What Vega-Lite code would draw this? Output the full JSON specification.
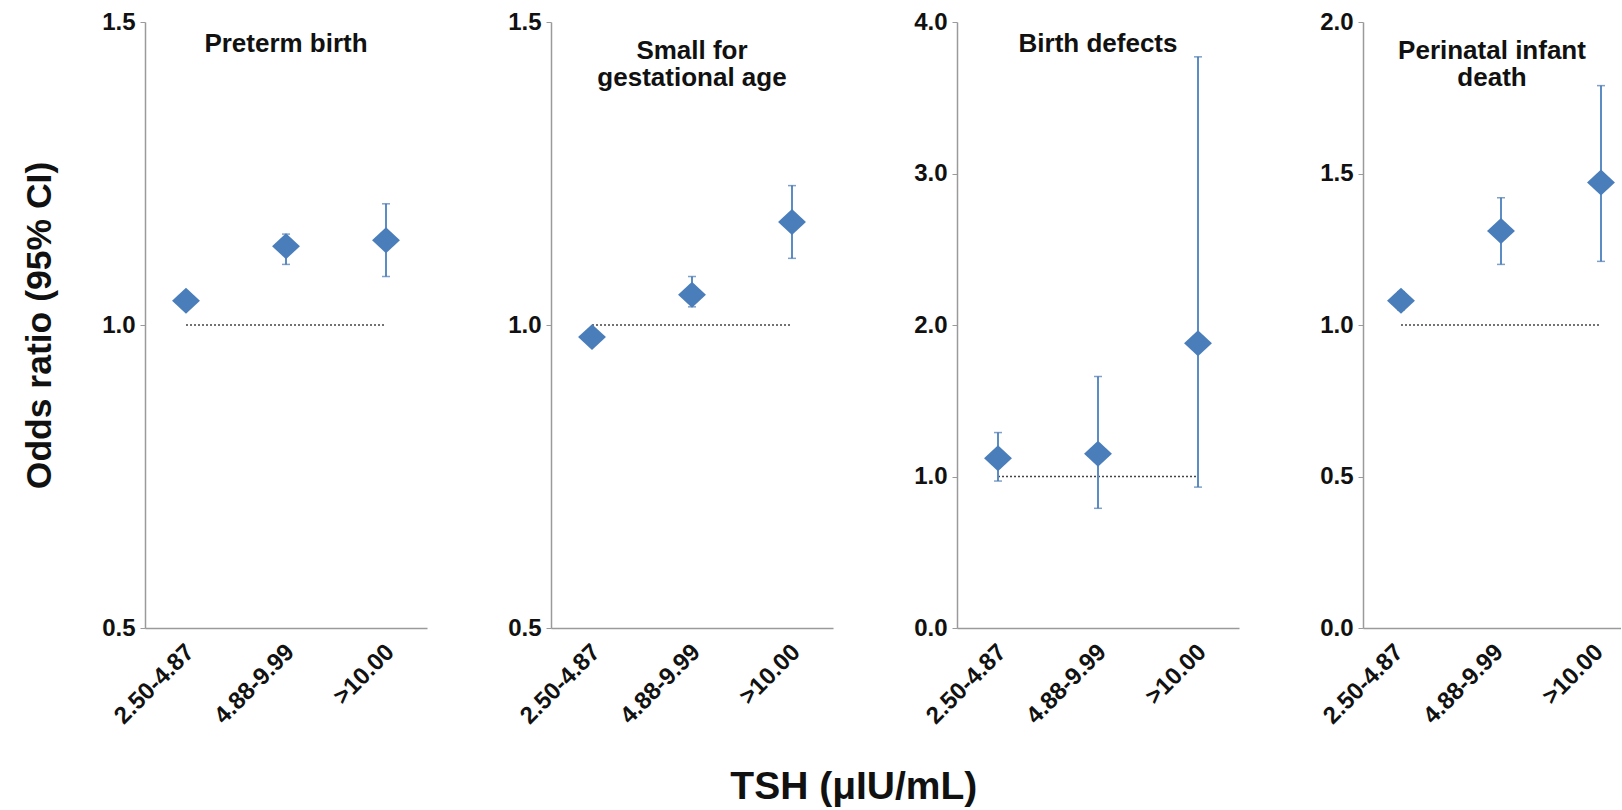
{
  "$schema": "https://vega.github.io/schema/vega-lite/v6.json",
  "background": "white",
  "padding": {"left": 22, "top": 10, "right": 0, "bottom": 3},
  "bounds": "flush",
  "spacing": 124,
  "title": {"text": "TSH (μIU/mL)", "orient": "bottom", "anchor": "middle", "font": "Liberation Sans", "fontSize": 39, "fontWeight": "bold", "color": "#111", "offset": 40, "dx": 32},
  "config": {
    "view": {"stroke": null},
    "font": "Liberation Sans",
    "axis": {"labelFont": "Liberation Sans", "labelFontWeight": "bold", "labelFontSize": 24, "labelColor": "#111", "domainColor": "#9a9a9a", "domainWidth": 1.5, "tickColor": "#9a9a9a", "tickWidth": 1, "grid": false, "titleFont": "Liberation Sans", "titleFontWeight": "bold", "titleColor": "#111"},
    "axisX": {"ticks": false, "labelAngle": -45, "labelAlign": "right", "labelBaseline": "middle", "labelPadding": 20, "labelOffset": 4},
    "axisY": {"tickSize": 5, "labelPadding": 5},
    "title": {"font": "Liberation Sans", "fontWeight": "bold", "color": "#111"}
  },
  "datasets": {
    "or": [
      {"outcome": "Preterm birth", "tsh": "2.50-4.87", "or": 1.04, "lo": 1.03, "hi": 1.05},
      {"outcome": "Preterm birth", "tsh": "4.88-9.99", "or": 1.13, "lo": 1.10, "hi": 1.15},
      {"outcome": "Preterm birth", "tsh": ">10.00", "or": 1.14, "lo": 1.08, "hi": 1.20},
      {"outcome": "Small for gestational age", "tsh": "2.50-4.87", "or": 0.98, "lo": 0.97, "hi": 0.99},
      {"outcome": "Small for gestational age", "tsh": "4.88-9.99", "or": 1.05, "lo": 1.03, "hi": 1.08},
      {"outcome": "Small for gestational age", "tsh": ">10.00", "or": 1.17, "lo": 1.11, "hi": 1.23},
      {"outcome": "Birth defects", "tsh": "2.50-4.87", "or": 1.12, "lo": 0.97, "hi": 1.29},
      {"outcome": "Birth defects", "tsh": "4.88-9.99", "or": 1.15, "lo": 0.79, "hi": 1.66},
      {"outcome": "Birth defects", "tsh": ">10.00", "or": 1.88, "lo": 0.93, "hi": 3.77},
      {"outcome": "Perinatal infant death", "tsh": "2.50-4.87", "or": 1.08, "lo": 1.05, "hi": 1.11},
      {"outcome": "Perinatal infant death", "tsh": "4.88-9.99", "or": 1.31, "lo": 1.20, "hi": 1.42},
      {"outcome": "Perinatal infant death", "tsh": ">10.00", "or": 1.47, "lo": 1.21, "hi": 1.79}
    ],
    "refs": [
      {"outcome": "Preterm birth", "x1": "2.50-4.87", "x2": ">10.00", "ref": 1},
      {"outcome": "Small for gestational age", "x1": "2.50-4.87", "x2": ">10.00", "ref": 1},
      {"outcome": "Birth defects", "x1": "2.50-4.87", "x2": ">10.00", "ref": 1},
      {"outcome": "Perinatal infant death", "x1": "2.50-4.87", "x2": ">10.00", "ref": 1}
    ]
  },
  "hconcat": [
    {
      "width": 282, "height": 606,
      "title": {"text": "Preterm birth", "fontSize": 26, "offset": -47, "frame": "group", "anchor": "middle"},
      "layer": [
        {"data": {"name": "refs"}, "transform": [{"filter": "datum.outcome == 'Preterm birth'"}],
         "mark": {"type": "rule", "strokeDash": [2, 2], "color": "#444", "strokeWidth": 1.5},
         "encoding": {"x": {"field": "x1", "type": "ordinal", "sort": ["2.50-4.87", "4.88-9.99", ">10.00"], "scale": {"type": "point", "padding": 0.41}, "axis": {"title": null}}, "x2": {"field": "x2"}, "y": {"field": "ref", "type": "quantitative", "scale": {"domain": [0.5, 1.5], "nice": false, "zero": false}, "axis": {"values": [0.5, 1, 1.5], "format": ".1f", "title": "Odds ratio (95% CI)", "titleFontSize": 35.5, "titlePadding": 44}}}},
        {"data": {"name": "or"}, "transform": [{"filter": "datum.outcome == 'Preterm birth'"}],
         "encoding": {"x": {"field": "tsh", "type": "ordinal", "sort": ["2.50-4.87", "4.88-9.99", ">10.00"]}},
         "layer": [
           {"mark": {"type": "rule", "color": "#5b8cc4", "strokeWidth": 2}, "encoding": {"y": {"field": "lo", "type": "quantitative"}, "y2": {"field": "hi"}}},
           {"mark": {"type": "tick", "orient": "horizontal", "size": 8, "thickness": 1.5, "color": "#4a78b0"}, "encoding": {"y": {"field": "lo", "type": "quantitative"}}},
           {"mark": {"type": "tick", "orient": "horizontal", "size": 8, "thickness": 1.5, "color": "#4a78b0"}, "encoding": {"y": {"field": "hi", "type": "quantitative"}}},
           {"mark": {"type": "point", "shape": "M-1,0L0,-0.93L1,0L0,0.93Z", "filled": true, "size": 780, "opacity": 1, "color": "#4a7ebb"}, "encoding": {"y": {"field": "or", "type": "quantitative"}}}
         ]}
      ]
    },
    {
      "width": 282, "height": 606,
      "title": {"text": ["Small for", "gestational age"], "fontSize": 26, "lineHeight": 27, "offset": -81, "frame": "group", "anchor": "middle"},
      "layer": [
        {"data": {"name": "refs"}, "transform": [{"filter": "datum.outcome == 'Small for gestational age'"}],
         "mark": {"type": "rule", "strokeDash": [2, 2], "color": "#444", "strokeWidth": 1.5},
         "encoding": {"x": {"field": "x1", "type": "ordinal", "sort": ["2.50-4.87", "4.88-9.99", ">10.00"], "scale": {"type": "point", "padding": 0.41}, "axis": {"title": null}}, "x2": {"field": "x2"}, "y": {"field": "ref", "type": "quantitative", "scale": {"domain": [0.5, 1.5], "nice": false, "zero": false}, "axis": {"values": [0.5, 1, 1.5], "format": ".1f", "title": null}}}},
        {"data": {"name": "or"}, "transform": [{"filter": "datum.outcome == 'Small for gestational age'"}],
         "encoding": {"x": {"field": "tsh", "type": "ordinal", "sort": ["2.50-4.87", "4.88-9.99", ">10.00"]}},
         "layer": [
           {"mark": {"type": "rule", "color": "#5b8cc4", "strokeWidth": 2}, "encoding": {"y": {"field": "lo", "type": "quantitative"}, "y2": {"field": "hi"}}},
           {"mark": {"type": "tick", "orient": "horizontal", "size": 8, "thickness": 1.5, "color": "#4a78b0"}, "encoding": {"y": {"field": "lo", "type": "quantitative"}}},
           {"mark": {"type": "tick", "orient": "horizontal", "size": 8, "thickness": 1.5, "color": "#4a78b0"}, "encoding": {"y": {"field": "hi", "type": "quantitative"}}},
           {"mark": {"type": "point", "shape": "M-1,0L0,-0.93L1,0L0,0.93Z", "filled": true, "size": 780, "opacity": 1, "color": "#4a7ebb"}, "encoding": {"y": {"field": "or", "type": "quantitative"}}}
         ]}
      ]
    },
    {
      "width": 282, "height": 606,
      "title": {"text": "Birth defects", "fontSize": 26, "offset": -47, "frame": "group", "anchor": "middle"},
      "layer": [
        {"data": {"name": "refs"}, "transform": [{"filter": "datum.outcome == 'Birth defects'"}],
         "mark": {"type": "rule", "strokeDash": [2, 2], "color": "#444", "strokeWidth": 1.5},
         "encoding": {"x": {"field": "x1", "type": "ordinal", "sort": ["2.50-4.87", "4.88-9.99", ">10.00"], "scale": {"type": "point", "padding": 0.41}, "axis": {"title": null}}, "x2": {"field": "x2"}, "y": {"field": "ref", "type": "quantitative", "scale": {"domain": [0, 4], "nice": false, "zero": false}, "axis": {"values": [0, 1, 2, 3, 4], "format": ".1f", "title": null}}}},
        {"data": {"name": "or"}, "transform": [{"filter": "datum.outcome == 'Birth defects'"}],
         "encoding": {"x": {"field": "tsh", "type": "ordinal", "sort": ["2.50-4.87", "4.88-9.99", ">10.00"]}},
         "layer": [
           {"mark": {"type": "rule", "color": "#5b8cc4", "strokeWidth": 2}, "encoding": {"y": {"field": "lo", "type": "quantitative"}, "y2": {"field": "hi"}}},
           {"mark": {"type": "tick", "orient": "horizontal", "size": 8, "thickness": 1.5, "color": "#4a78b0"}, "encoding": {"y": {"field": "lo", "type": "quantitative"}}},
           {"mark": {"type": "tick", "orient": "horizontal", "size": 8, "thickness": 1.5, "color": "#4a78b0"}, "encoding": {"y": {"field": "hi", "type": "quantitative"}}},
           {"mark": {"type": "point", "shape": "M-1,0L0,-0.93L1,0L0,0.93Z", "filled": true, "size": 780, "opacity": 1, "color": "#4a7ebb"}, "encoding": {"y": {"field": "or", "type": "quantitative"}}}
         ]}
      ]
    },
    {
      "width": 258, "height": 606,
      "title": {"text": ["Perinatal infant", "death"], "fontSize": 26, "lineHeight": 27, "offset": -81, "frame": "group", "anchor": "middle"},
      "layer": [
        {"data": {"name": "refs"}, "transform": [{"filter": "datum.outcome == 'Perinatal infant death'"}],
         "mark": {"type": "rule", "strokeDash": [2, 2], "color": "#444", "strokeWidth": 1.5},
         "encoding": {"x": {"field": "x1", "type": "ordinal", "sort": ["2.50-4.87", "4.88-9.99", ">10.00"], "scale": {"type": "point", "padding": 0.29, "align": 0.655}, "axis": {"title": null, "labelOffset": -2}}, "x2": {"field": "x2"}, "y": {"field": "ref", "type": "quantitative", "scale": {"domain": [0, 2], "nice": false, "zero": false}, "axis": {"values": [0, 0.5, 1, 1.5, 2], "format": ".1f", "title": null}}}},
        {"data": {"name": "or"}, "transform": [{"filter": "datum.outcome == 'Perinatal infant death'"}],
         "encoding": {"x": {"field": "tsh", "type": "ordinal", "sort": ["2.50-4.87", "4.88-9.99", ">10.00"]}},
         "layer": [
           {"mark": {"type": "rule", "color": "#5b8cc4", "strokeWidth": 2}, "encoding": {"y": {"field": "lo", "type": "quantitative"}, "y2": {"field": "hi"}}},
           {"mark": {"type": "tick", "orient": "horizontal", "size": 8, "thickness": 1.5, "color": "#4a78b0"}, "encoding": {"y": {"field": "lo", "type": "quantitative"}}},
           {"mark": {"type": "tick", "orient": "horizontal", "size": 8, "thickness": 1.5, "color": "#4a78b0"}, "encoding": {"y": {"field": "hi", "type": "quantitative"}}},
           {"mark": {"type": "point", "shape": "M-1,0L0,-0.93L1,0L0,0.93Z", "filled": true, "size": 780, "opacity": 1, "color": "#4a7ebb"}, "encoding": {"y": {"field": "or", "type": "quantitative"}}}
         ]}
      ]
    }
  ]
}
